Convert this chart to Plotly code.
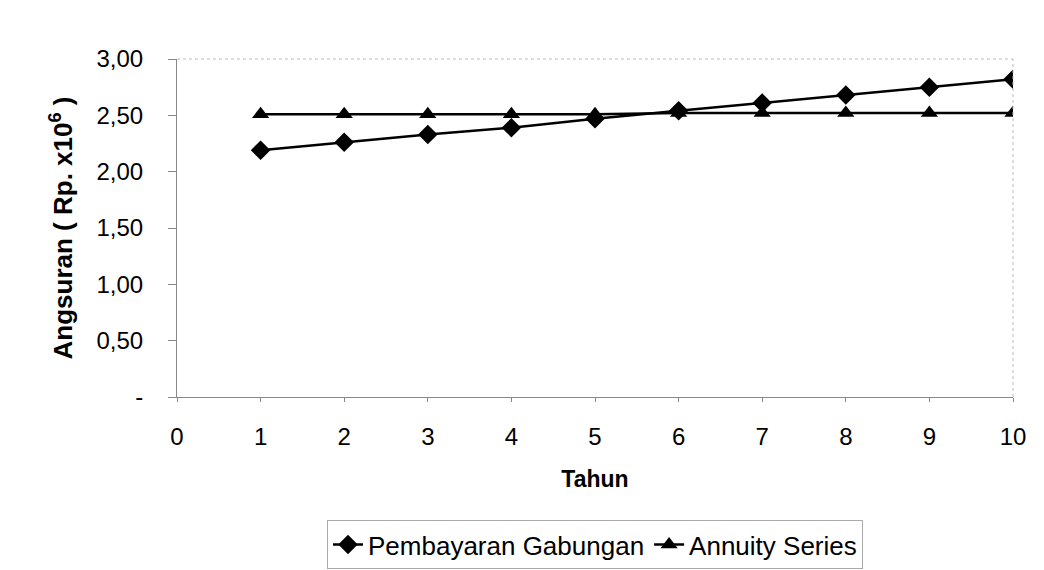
import plotly.graph_objects as go

# data
tahun = [1, 2, 3, 4, 5, 6, 7, 8, 9, 10]
pembayaran_gabungan = [2.19, 2.26, 2.33, 2.39, 2.47, 2.54, 2.61, 2.68, 2.75, 2.82]
annuity_series = [2.51, 2.51, 2.51, 2.51, 2.51, 2.52, 2.52, 2.52, 2.52, 2.52]
y_ticks = [0, 0.5, 1.0, 1.5, 2.0, 2.5, 3.0]
y_ticktext = ["-", "0,50", "1,00", "1,50", "2,00", "2,50", "3,00"]

FONT = "Liberation Sans, Arial, sans-serif"

fig = go.Figure()

fig.add_trace(go.Scatter(
    x=tahun, y=pembayaran_gabungan,
    mode="lines+markers",
    name="Pembayaran Gabungan",
    line=dict(color="black", width=2.5),
    marker=dict(symbol="diamond", size=15, color="black"),
))

fig.add_trace(go.Scatter(
    x=tahun, y=annuity_series,
    mode="lines+markers",
    name="Annuity Series",
    line=dict(color="black", width=2.5),
    marker=dict(symbol="triangle-up", size=15, color="black"),
))

# the page adds an 8px body margin, so the figure is 8px smaller each way
fig.update_layout(
    width=1036,
    height=562,
    margin=dict(l=169, r=31, t=51, b=173, autoexpand=False),
    paper_bgcolor="white",
    plot_bgcolor="white",
    font=dict(family=FONT, size=24, color="black"),
    showlegend=True,
    legend=dict(
        orientation="h",
        x=0.5, xanchor="center",
        yref="container",
        y=0.045, yanchor="middle",
        bordercolor="#aaaaaa",
        borderwidth=1,
        font=dict(size=26),
    ),
    xaxis=dict(
        range=[0, 10],
        tickmode="linear", tick0=0, dtick=1,
        automargin=False,
        showgrid=False, zeroline=False,
        showline=True, linecolor="#888888", linewidth=1,
        ticks="outside", ticklen=4, tickcolor="#888888",
        ticklabelstandoff=14,
        title=dict(text="<b>Tahun</b>", standoff=22, font=dict(size=23)),
    ),
    yaxis=dict(
        range=[0, 3],
        tickvals=y_ticks, ticktext=y_ticktext,
        automargin=False,
        showgrid=False, zeroline=False,
        showline=True, linecolor="#888888", linewidth=1,
        ticks="outside", ticklen=8, tickcolor="#888888",
        ticklabelstandoff=20,
        title=dict(text="<b>Angsuran ( Rp. x10<sup>6</sup> )</b>", standoff=16, font=dict(size=26)),
    ),
)

# faint dotted top and right borders of the plot area
fig.add_shape(type="line", xref="paper", yref="paper", x0=0, x1=1, y0=1, y1=1,
              line=dict(color="#bbbbbb", width=1, dash="dot"))
fig.add_shape(type="line", xref="paper", yref="paper", x0=1, x1=1, y0=0, y1=1,
              line=dict(color="#bbbbbb", width=1, dash="dot"))

fig.write_html("out.html")
